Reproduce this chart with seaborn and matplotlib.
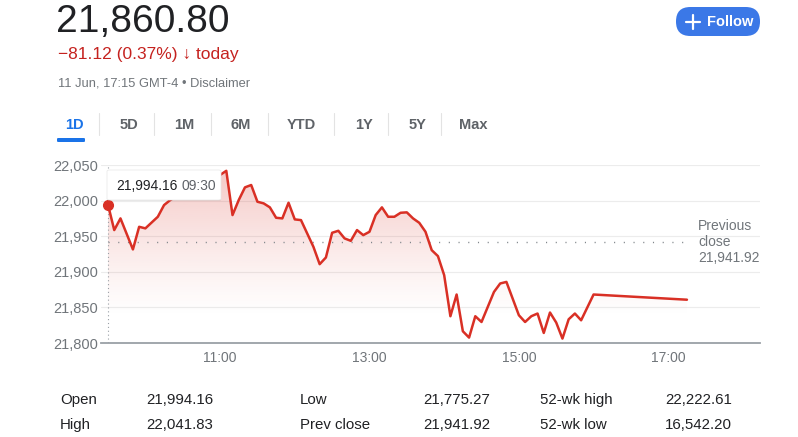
import numpy as np
import pandas as pd
import matplotlib.pyplot as plt
import matplotlib.colors as mcolors
from matplotlib.patches import FancyBboxPatch
import seaborn as sns

# intraday data (5 minute steps)
times = ["09:30", "09:35", "09:40", "09:50", "09:55", "10:00", "10:10", "10:15",
         "10:20", "10:25", "10:30", "10:35", "10:40", "10:45", "10:50", "10:55",
         "11:00", "11:05", "11:10", "11:15", "11:20", "11:25", "11:30", "11:35",
         "11:40", "11:45", "11:50", "11:55", "12:00", "12:05", "12:15", "12:20",
         "12:25", "12:30", "12:35", "12:40", "12:45", "12:50", "12:55", "13:00",
         "13:05", "13:10", "13:15", "13:20", "13:25", "13:30", "13:35", "13:40",
         "13:45", "13:50", "13:55", "14:00", "14:05", "14:10", "14:15", "14:20",
         "14:25", "14:30", "14:35", "14:40", "14:45", "14:50", "15:00", "15:05",
         "15:10", "15:15", "15:20", "15:25", "15:30", "15:35", "15:40", "15:45",
         "15:50", "16:00", "17:15"]
prices = [21994.16, 21958.6, 21975.0, 21931.4, 21963.2, 21961.0, 21977.3, 21993.7,
          22000.8, 22006.0, 22010.0, 22014.0, 22018.0, 22022.0, 22026.0, 22030.0,
          22036.0, 22041.83, 21979.7, 22000.8, 22018.6, 22021.9, 21998.4, 21996.1,
          21990.5, 21975.9, 21975.0, 21997.0, 21973.6, 21972.6, 21935.0, 21910.7,
          21920.1, 21954.8, 21957.6, 21946.9, 21943.5, 21958.6, 21951.5, 21956.2,
          21979.7, 21990.5, 21977.3, 21977.3, 21982.9, 21983.5, 21975.0, 21968.8,
          21956.2, 21930.4, 21922.0, 21895.3, 21837.6, 21868.1, 21816.5, 21807.6,
          21837.6, 21829.5, 21850.6, 21871.7, 21883.6, 21885.8, 21839.0, 21829.5,
          21837.6, 21841.4, 21814.1, 21842.8, 21828.7, 21806.2, 21833.3, 21841.4,
          21831.9, 21868.1, 21860.80]

prev_close = 21941.92
y_ticks = [21800, 21850, 21900, 21950, 22000, 22050]
x_ticks = ["11:00", "13:00", "15:00", "17:00"]

stats = [("Open", "21,994.16", "Low", "21,775.27", "52-wk high", "22,222.61"),
         ("High", "22,041.83", "Prev close", "21,941.92", "52-wk low", "16,542.20")]
tabs = ["1D", "5D", "1M", "6M", "YTD", "1Y", "5Y", "Max"]


def to_hours(t):
    return int(t[:2]) + int(t[3:]) / 60


df = pd.DataFrame({"hour": [to_hours(t) for t in times], "price": prices})

RED = "#d93025"
GREY = "#70757a"
DARK = "#202124"

sns.set_theme(style="white")
plt.rcParams["font.family"] = ["Liberation Sans", "DejaVu Sans"]

W, H = 798, 437
fig = plt.figure(figsize=(W / 100, H / 100), dpi=100)


def fx(x):
    return x / W


def fy(y):
    return 1 - y / H


# chart area
ax = fig.add_axes([fx(101), fy(343), fx(760) - fx(101), fy(165) - fy(343)])
xmin, xmax = 9.406, 18.228
ymin, ymax = 21800, 22050

for v in y_ticks[1:]:
    ax.axhline(v, color="#ececec", lw=0.8, zorder=0)

# gradient fill under the line
grad = np.zeros((256, 1, 4))
grad[..., :3] = mcolors.to_rgb(RED)
levels = np.linspace(ymax, ymin, 256)
grad[:, 0, 3] = np.clip((levels - 21835) / (ymax - 21835), 0, 1) ** 1.2 * 0.27
poly = ax.fill_between(df["hour"], df["price"], ymin, facecolor="none", edgecolor="none")
im = ax.imshow(grad, extent=[xmin, xmax, ymin, ymax], aspect="auto", origin="upper", zorder=1)
im.set_clip_path(poly.get_paths()[0], transform=ax.transData)

sns.lineplot(data=df, x="hour", y="price", color=RED, lw=1.8, ax=ax, zorder=3)

# previous close + hover guide
ax.plot([9.5, 17.3], [prev_close, prev_close], color="#80868b", lw=1.0,
        linestyle=(0, (0.8, 6.2)), zorder=2)
ax.plot([9.5, 9.5], [ymin, ymax], color="#9aa0a6", lw=0.8, linestyle=(0, (1, 2.5)), zorder=2)
ax.plot([9.5], [prices[0]], "o", color=RED, ms=7, zorder=4)

ax.set_xlim(xmin, xmax)
ax.set_ylim(ymin, ymax)
ax.set_xticks([to_hours(t) for t in x_ticks])
ax.set_xticklabels(x_ticks)
ax.set_yticks(y_ticks)
ax.set_yticklabels([f"{v:,}" for v in y_ticks])
ax.set_xlabel("")
ax.set_ylabel("")
for s in ["left", "top", "right"]:
    ax.spines[s].set_visible(False)
ax.spines["bottom"].set_color("#9aa0a6")
ax.spines["bottom"].set_linewidth(1.3)
ax.tick_params(axis="x", length=5, width=0.8, color="#9aa0a6", labelcolor=GREY,
               labelsize=10, pad=1)
ax.tick_params(axis="y", length=0, labelcolor=GREY, labelsize=10.5, pad=2)

fig.text(fx(698), fy(242), "Previous\nclose\n21,941.92", color=GREY, fontsize=10,
         va="center", ha="left", linespacing=1.15)

# tooltip
fig.patches.append(FancyBboxPatch((fx(108), fy(201)), fx(113), fy(0) - fy(30),
                                  boxstyle="round,pad=0,rounding_size=0.003",
                                  transform=fig.transFigure, fc="#000000", ec="none",
                                  alpha=0.08, zorder=5))
fig.patches.append(FancyBboxPatch((fx(107), fy(200)), fx(114), fy(0) - fy(30),
                                  boxstyle="round,pad=0,rounding_size=0.003",
                                  transform=fig.transFigure, fc="white", ec="#e6e6e6",
                                  lw=0.5, zorder=6))
fig.text(fx(116), fy(185.5), "21,994.16", color=DARK, fontsize=10, va="center", zorder=7)
fig.text(fx(181), fy(185.5), "09:30", color="#5f6368", fontsize=10, va="center", zorder=7)

# header
fig.text(fx(56), fy(32), "21,860.80", color=DARK, fontsize=28, va="baseline")
fig.text(fx(58), fy(54), "\u221281.12 (0.37%) \u2193 today", color="#c5221f", fontsize=12.5,
         va="center")
fig.text(fx(58), fy(83), "11 Jun, 17:15 GMT-4 \u2022 Disclaimer", color=GREY, fontsize=9.3,
         va="center")

# follow button
fig.patches.append(FancyBboxPatch((fx(676), fy(36)), fx(84), fy(0) - fy(29),
                                  boxstyle="round,pad=0,rounding_size=0.018",
                                  mutation_aspect=W / H,
                                  transform=fig.transFigure, fc="#3b78e7", ec="none"))
fig.add_artist(plt.Line2D([fx(686), fx(700)], [fy(21.5), fy(21.5)], color="white", lw=1.6))
fig.add_artist(plt.Line2D([fx(693), fx(693)], [fy(14.5), fy(28.5)], color="white", lw=1.6))
fig.text(fx(707), fy(21.5), "Follow", color="white", fontsize=10.5, weight="bold",
         va="center", ha="left")

# range tabs
tab_x = [74, 129, 184, 241, 301, 364, 418, 473]
for t, x in zip(tabs, tab_x):
    fig.text(fx(x), fy(125), t, color="#1a73e8" if t == "1D" else "#5f6368",
             fontsize=10.5, weight="bold", ha="center", va="center")
for x in [99, 154, 211, 268, 334, 388, 441]:
    fig.add_artist(plt.Line2D([fx(x), fx(x)], [fy(113), fy(135)], color="#e3e3e3", lw=0.8))
fig.patches.append(FancyBboxPatch((fx(57), fy(142)), fx(28), fy(0) - fy(4),
                                  boxstyle="round,pad=0,rounding_size=0.002",
                                  transform=fig.transFigure, fc="#1a73e8", ec="none"))

# stats table
col_x = [60, 146, 300, 423, 540, 665]
for row, y in zip(stats, [400, 425]):
    for text, x in zip(row, col_x):
        fig.text(fx(x), fy(y), text, color=DARK, fontsize=10.8, va="center", ha="left")

fig.savefig("out.png", dpi=100)
